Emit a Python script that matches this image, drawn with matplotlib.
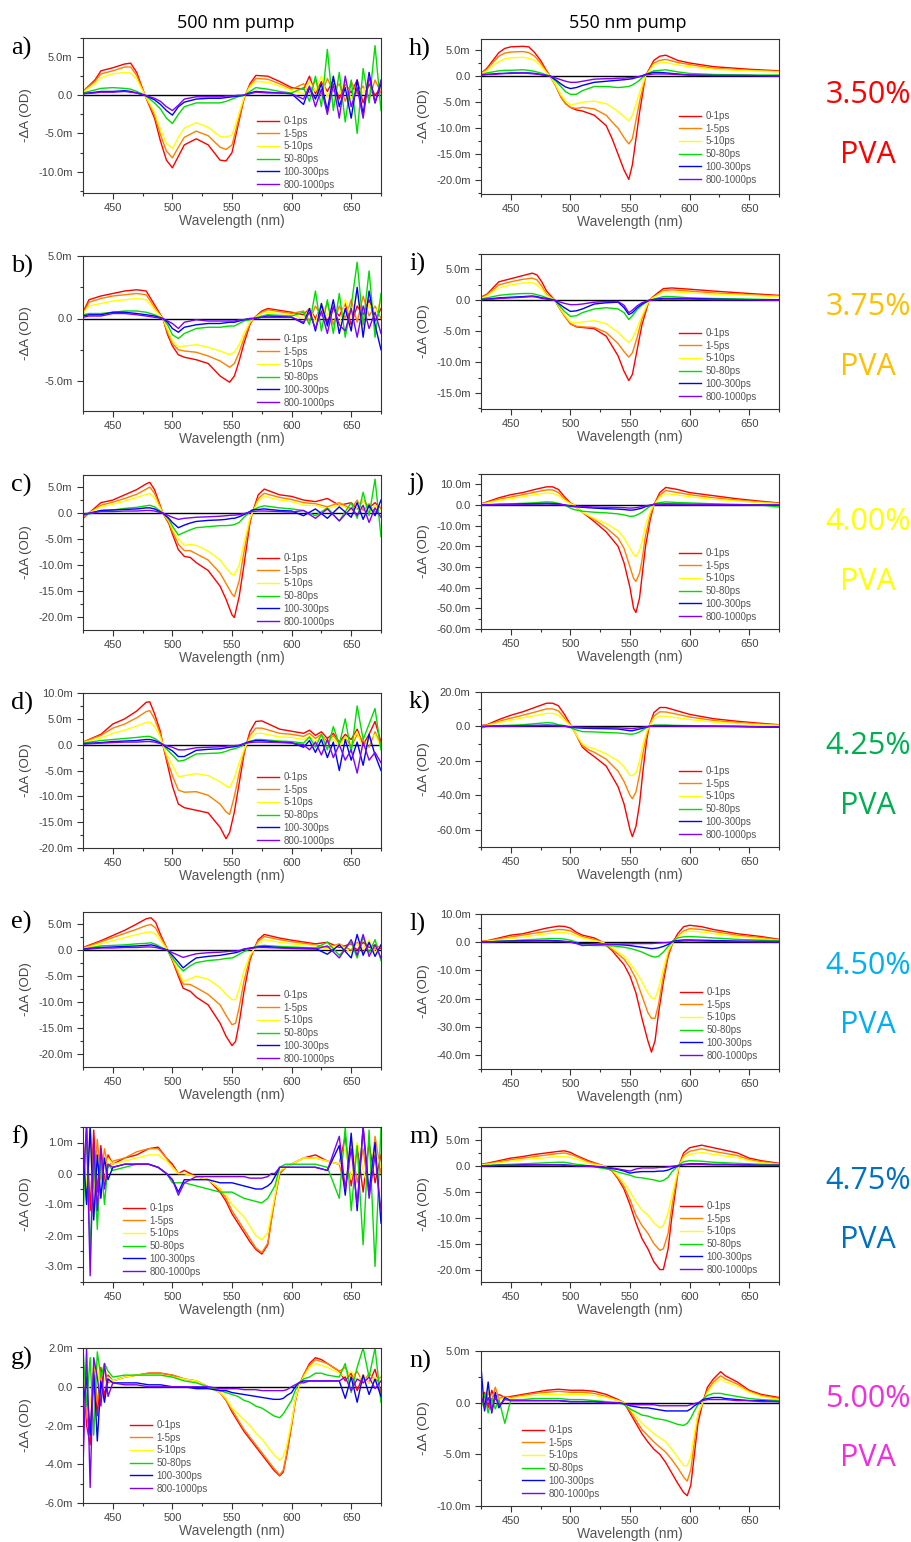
import matplotlib
matplotlib.use("Agg")
import matplotlib.pyplot as plt
from matplotlib.ticker import MultipleLocator, FuncFormatter

plt.rcParams['font.family'] = ['Liberation Sans', 'DejaVu Sans']

DELAYS = ["0-1ps", "1-5ps", "5-10ps", "50-80ps", "100-300ps", "800-1000ps"]
COLORS = ["#FF0000", "#FF8000", "#FFFF00", "#00DD00", "#0000FF", "#8000FF"]

PVA_LABELS = ["3.50%", "3.75%", "4.00%", "4.25%", "4.50%", "4.75%", "5.00%"]
PVA_COLORS = ["#FF0000", "#FFC000", "#FFFF00", "#00B050", "#00B0F0", "#0070C0", "#EE30DD"]

# -dA spectra in mOD, one row per delay window (same order as DELAYS)

# 500 nm pump
A_WL = [425, 435, 440, 450, 460, 465, 470, 477, 485, 490, 495, 500, 505, 510, 520, 530, 540, 545, 550, 555, 560, 565, 570, 580, 590,
        600, 610, 615, 620, 625, 630, 635, 640, 645, 650, 655, 660, 665, 670, 675]
A_DA = [
    [0.5, 2.0, 3.2, 3.6, 4.1, 4.2, 3.0, 0.0, -3.0, -6.0, -8.5, -9.5, -8.0, -6.5, -5.7, -6.5, -8.5, -8.6, -7.5, -4.0, -0.5, 1.5, 2.6, 2.5, 1.8,
     1.0, 0.8, 2.5, 0.2, 1.8, 0.5, 2.0, -0.5, 1.5, 0.3, 2.0, -1.0, 1.5, 0.0, 1.0],
    [0.5, 1.8, 2.8, 3.2, 3.7, 3.7, 2.6, 0.0, -2.6, -5.2, -7.3, -8.2, -6.8, -5.5, -4.7, -5.3, -6.8, -7.1, -6.5, -3.5, -0.4, 1.3, 2.2, 2.1, 1.5,
     0.8, 1.5, 0.3, 2.0, 0.0, 2.2, 0.5, 1.5, -0.8, 1.8, 0.2, 1.2, -0.5, 2.0, 0.3],
    [0.4, 1.5, 2.3, 2.8, 3.0, 2.9, 2.1, 0.0, -2.2, -4.5, -6.3, -7.0, -5.5, -4.3, -3.6, -4.2, -5.4, -5.5, -5.2, -2.8, -0.3, 1.1, 1.8, 1.7, 1.2,
     0.6, 0.2, 1.8, 0.5, 2.5, -0.3, 1.6, 0.2, 1.8, -0.5, 1.0, 0.3, 2.2, -0.8, 1.2],
    [0.3, 0.7, 0.9, 1.0, 0.9, 0.8, 0.5, 0.0, -1.0, -1.8, -3.0, -3.7, -2.5, -1.5, -1.0, -1.0, -1.0, -0.8, -0.5, -0.2, 0.0, 0.5, 1.0, 0.8, 0.5,
     0.3, 1.0, -0.8, 2.5, -1.5, 6.0, -2.0, 3.0, -3.5, 2.0, -5.0, 3.5, -1.0, 6.5, -2.0],
    [0.2, 0.4, 0.5, 0.5, 0.6, 0.5, 0.3, 0.0, -0.6, -1.2, -2.0, -2.6, -1.5, -0.9, -0.5, -0.4, -0.4, -0.3, -0.2, -0.1, 0.0, 0.3, 0.5, 0.4, 0.3,
     0.2, -1.2, 1.0, -0.5, 1.5, -2.0, 2.5, -1.5, 1.0, -3.0, 2.0, -2.5, 3.0, -1.0, 1.5],
    [0.2, 0.3, 0.4, 0.4, 0.5, 0.4, 0.3, 0.0, -0.4, -0.8, -1.5, -2.0, -1.3, -0.5, -0.2, -0.2, -0.2, -0.1, -0.1, 0.0, 0.0, 0.2, 0.4, 0.3, 0.3,
     0.2, -0.5, 1.2, -1.5, 0.8, -2.5, 1.5, -3.0, 2.5, -1.5, 1.0, -3.0, 2.5, -1.0, 2.0],
]

B_WL = [425, 430, 440, 450, 460, 470, 478, 485, 492, 496, 500, 505, 510, 520, 530, 540, 548, 552, 556, 560, 565, 568, 575, 580,
        600, 610, 615, 620, 625, 630, 635, 640, 645, 650, 655, 660, 665, 670, 675]
B_DA = [
    [0.5, 1.5, 1.8, 2.0, 2.2, 2.3, 2.2, 1.1, 0.0, -1.3, -2.2, -2.9, -3.1, -3.3, -3.6, -4.6, -5.1, -4.6, -3.4, -2.0, -0.5, 0.0, 0.6, 0.8,
     0.5, 0.3, 0.8, 0.0, 1.0, -0.3, 0.8, 0.2, 1.2, -0.5, 1.0, 0.3, 1.5, -0.2, 0.8],
    [0.4, 1.3, 1.6, 1.8, 1.9, 2.0, 1.9, 0.9, 0.0, -1.1, -2.0, -2.5, -2.6, -2.7, -3.0, -3.4, -3.9, -3.6, -2.7, -1.6, -0.4, 0.0, 0.5, 0.7,
     0.4, 0.6, -0.2, 1.0, 0.2, 1.2, -0.5, 1.0, 0.0, 1.5, -0.3, 1.8, 0.2, 1.0, 0.0],
    [0.4, 1.0, 1.2, 1.4, 1.5, 1.6, 1.5, 0.7, 0.0, -0.9, -1.8, -2.3, -2.2, -2.1, -2.3, -2.6, -2.9, -2.7, -2.1, -1.2, -0.3, 0.0, 0.4, 0.5,
     0.3, 0.0, 0.8, -0.3, 1.2, 0.2, 1.0, -0.5, 1.5, 0.0, 2.0, -0.8, 1.2, 0.3, 1.5],
    [0.3, 0.4, 0.4, 0.5, 0.6, 0.6, 0.5, 0.3, 0.0, -0.5, -1.3, -1.6, -1.2, -0.8, -0.7, -0.7, -0.6, -0.6, -0.4, -0.2, -0.1, 0.0, 0.2, 0.3,
     0.2, 0.5, -0.5, 2.2, -1.0, 1.5, -1.2, 2.0, -1.5, 1.0, 4.5, -0.5, 3.8, -1.5, 2.0],
    [0.2, 0.3, 0.3, 0.5, 0.5, 0.4, 0.3, 0.2, 0.0, -0.3, -0.8, -1.1, -0.7, -0.5, -0.4, -0.4, -0.3, -0.3, -0.2, -0.1, 0.0, 0.0, 0.1, 0.2,
     0.1, -0.4, 0.8, -1.0, 1.2, -0.6, 1.5, -1.2, 0.8, -1.0, 2.5, -1.5, 2.2, -0.5, -2.5],
    [0.1, 0.2, 0.2, 0.4, 0.4, 0.3, 0.2, 0.1, 0.0, -0.2, -0.4, -0.8, -0.3, -0.1, -0.2, -0.2, -0.2, -0.2, -0.1, -0.1, 0.0, 0.0, 0.1, 0.1,
     0.1, -0.3, 0.5, -0.8, 0.6, -1.2, 1.0, -0.5, -1.0, 0.8, -1.5, 1.0, -0.8, 0.5, -1.2],
]

C_WL = [425, 440, 450, 460, 470, 478, 481, 485, 492, 497, 500, 505, 510, 515, 520, 530, 540, 545, 550, 552, 556, 560, 565, 567, 572, 577, 590,
        600, 610, 620, 630, 640, 650, 655, 660, 665, 670, 675]
C_DA = [
    [-1.0, 2.0, 2.5, 3.5, 4.5, 5.6, 5.9, 4.5, 0.0, -2.0, -4.0, -7.0, -8.3, -8.5, -9.5, -11.0, -14.0, -16.5, -19.5, -20.0, -16.0, -10.0, -2.0, 0.0, 3.5, 4.6, 3.5,
     3.2, 2.5, 2.2, 2.8, 1.5, 2.0, 0.8, 2.5, 1.0, 2.0, 0.8],
    [-0.8, 1.5, 2.1, 2.8, 3.6, 4.6, 5.0, 3.8, 0.0, -1.8, -3.5, -6.0, -7.2, -7.2, -7.8, -9.0, -11.5, -13.5, -15.5, -16.0, -13.0, -7.5, -1.5, 0.0, 2.8, 3.8, 3.0,
     2.6, 2.0, 1.8, 1.2, 2.0, 0.8, 2.5, 0.5, 1.8, 0.2, 1.2],
    [-0.6, 1.2, 1.7, 2.3, 3.0, 3.6, 3.8, 2.9, 0.0, -1.5, -3.0, -5.0, -6.2, -6.0, -6.2, -7.3, -9.0, -10.5, -11.8, -11.8, -10.0, -5.8, -1.0, 0.0, 2.3, 3.2, 2.5,
     2.2, 1.5, 1.5, 0.8, 1.6, 0.5, 1.0, 2.5, 0.0, 1.5, 0.6],
    [-0.5, 0.5, 0.6, 0.9, 1.1, 1.4, 1.5, 1.2, 0.0, -1.2, -2.5, -4.2, -3.7, -3.2, -2.8, -2.6, -2.4, -2.4, -2.3, -2.2, -1.8, -0.8, 0.2, 0.5, 1.1, 1.4, 1.0,
     0.8, 0.5, -0.5, 1.0, -1.5, 2.0, -1.0, 4.0, -0.5, 6.5, -4.5],
    [-0.3, 0.5, 0.6, 0.7, 0.8, 1.0, 1.0, 0.8, 0.0, -1.0, -1.8, -2.8, -2.3, -1.9, -1.6, -1.4, -1.3, -1.2, -1.0, -1.0, -0.7, -0.3, 0.3, 0.6, 0.7, 0.8, 0.5,
     0.4, -0.5, 0.8, -1.0, 1.2, -0.8, 2.0, -1.2, 1.5, -0.5, 2.5],
    [-0.2, 0.3, 0.3, 0.4, 0.4, 0.5, 0.5, 0.4, 0.0, -0.5, -0.8, -1.2, -1.0, -0.9, -0.8, -0.7, -0.6, -0.5, -0.4, -0.4, -0.3, -0.1, 0.2, 0.3, 0.4, 0.4, 0.3,
     0.2, 0.5, -1.0, 0.8, -1.5, 1.0, -0.5, 1.5, -1.8, 1.0, -0.8],
]

D_WL = [425, 440, 450, 460, 470, 478, 481, 485, 490, 492, 495, 500, 505, 510, 520, 530, 540, 545, 548, 552, 556, 560, 562, 565, 570, 575, 590,
        600, 610, 615, 620, 625, 630, 635, 640, 645, 650, 655, 660, 665, 670, 675]
D_DA = [
    [0.5, 2.0, 4.0, 5.0, 6.5, 8.2, 8.3, 6.0, 2.5, 0.0, -3.0, -8.0, -11.5, -12.2, -12.7, -13.2, -16.0, -18.2, -17.0, -13.0, -7.5, -2.0, 0.0, 2.5, 4.5, 4.6, 3.0,
     2.6, 2.2, 2.8, 1.8, 2.5, 1.2, 2.2, 0.5, 2.0, 1.0, 3.0, 0.0, 2.0, 4.5, 0.5],
    [0.5, 1.8, 3.2, 4.0, 5.2, 6.4, 6.6, 5.0, 2.0, 0.0, -2.5, -6.0, -8.8, -9.2, -9.1, -9.8, -11.5, -13.0, -13.5, -10.0, -5.5, -1.5, 0.0, 1.8, 3.2, 3.2, 2.2,
     2.0, 1.6, 2.2, 1.2, 2.0, 0.5, 1.8, 0.2, 1.5, -0.5, 2.0, 0.8, -0.5, 2.5, 0.0],
    [0.4, 1.3, 2.2, 2.8, 3.6, 4.3, 4.4, 3.5, 1.4, 0.0, -1.8, -4.0, -6.2, -6.0, -5.6, -6.0, -7.2, -8.0, -8.3, -6.5, -3.5, -1.0, 0.0, 1.2, 2.2, 2.2, 1.5,
     1.4, 1.0, 1.6, 0.5, 1.8, 0.0, 1.2, -0.5, 1.5, 0.3, 2.5, -1.0, 1.0, 2.0, -0.5],
    [0.3, 0.8, 1.0, 1.2, 1.4, 1.6, 1.6, 1.2, 0.4, 0.0, -0.8, -2.0, -3.2, -3.0, -1.8, -1.7, -1.6, -1.3, -1.0, -0.8, -0.5, 0.0, 0.3, 0.6, 1.0, 1.0, 0.7,
     0.6, 0.3, 1.5, -0.5, 2.0, -1.0, 3.5, 0.0, 5.0, -1.5, 7.5, 1.0, 4.0, 7.0, -1.0],
    [0.2, 0.4, 0.6, 0.7, 0.8, 1.0, 1.0, 0.8, 0.3, 0.0, -0.5, -1.2, -2.3, -2.3, -1.1, -0.9, -0.8, -0.6, -0.5, -0.4, -0.2, 0.2, 0.4, 0.6, 0.8, 0.8, 0.5,
     0.4, -0.5, 0.8, -1.5, 1.0, -2.5, 0.5, -5.0, 1.0, -3.0, 0.5, -4.0, 2.0, -2.0, -5.0],
    [0.1, 0.3, 0.4, 0.5, 0.5, 0.6, 0.6, 0.5, 0.2, 0.0, -0.2, -0.5, -1.0, -1.0, -0.6, -0.5, -0.4, -0.3, -0.2, -0.2, -0.1, 0.2, 0.3, 0.4, 0.5, 0.5, 0.4,
     0.3, 0.0, -1.0, 0.5, -2.0, 1.0, -2.5, 0.0, -3.0, -1.0, -5.5, 0.5, -3.0, -1.5, -3.5],
]

E_WL = [425, 440, 450, 460, 470, 478, 482, 486, 490, 496, 500, 505, 509, 515, 520, 530, 540, 545, 550, 553, 556, 560, 565, 568, 572, 577, 590,
        600, 620, 630, 640, 650, 655, 660, 665, 670, 675]
E_DA = [
    [0.5, 1.8, 2.8, 3.8, 5.0, 6.0, 6.2, 5.3, 3.0, 0.0, -2.0, -5.0, -7.3, -7.9, -9.0, -10.5, -14.0, -16.5, -18.3, -17.5, -14.0, -8.0, -2.0, 0.0, 2.0, 3.0, 2.3,
     1.9, 1.2, 1.5, 0.5, 1.2, 0.0, 1.5, 0.5, 1.0, 0.3],
    [0.4, 1.6, 2.4, 3.2, 4.0, 4.7, 4.9, 4.2, 2.5, 0.0, -1.8, -4.5, -6.5, -6.6, -7.2, -8.5, -10.5, -12.5, -14.3, -14.0, -11.0, -6.0, -1.5, 0.0, 1.7, 2.6, 2.0,
     1.6, 1.0, 0.5, 1.2, 0.0, 1.5, -0.5, 1.2, 0.2, 0.8],
    [0.3, 1.2, 1.8, 2.4, 3.0, 3.4, 3.5, 3.0, 1.8, 0.0, -1.6, -4.0, -6.0, -5.5, -5.0, -5.6, -7.2, -8.5, -9.5, -9.5, -7.5, -4.0, -1.0, 0.0, 1.3, 2.0, 1.5,
     1.2, 0.8, 0.2, 1.0, -0.5, 1.2, 0.3, 2.0, -0.5, 1.0],
    [0.2, 0.8, 0.9, 1.0, 1.2, 1.3, 1.4, 1.1, 0.6, 0.0, -1.5, -3.0, -4.0, -3.0, -2.4, -2.0, -1.8, -1.6, -1.5, -1.2, -0.8, -0.3, 0.2, 0.5, 0.8, 0.9, 0.7,
     0.6, 0.4, 1.5, -1.0, 1.5, -1.5, 2.5, -0.5, 2.0, -2.0],
    [0.2, 0.5, 0.6, 0.7, 0.8, 0.9, 1.0, 0.8, 0.4, 0.0, -1.0, -2.3, -3.4, -2.3, -1.5, -1.2, -1.0, -0.8, -0.6, -0.5, -0.3, 0.2, 0.4, 0.5, 0.6, 0.7, 0.5,
     0.4, 0.3, -0.8, 1.0, -1.5, 3.0, -1.0, 1.5, -1.2, 1.0],
    [0.1, 0.4, 0.4, 0.5, 0.5, 0.6, 0.6, 0.5, 0.3, 0.0, -0.5, -1.0, -1.4, -1.0, -0.7, -0.5, -0.4, -0.3, -0.2, -0.2, -0.1, 0.2, 0.3, 0.4, 0.5, 0.5, 0.4,
     0.3, 0.2, 0.8, -1.5, 2.0, -1.0, 3.0, -1.2, 1.0, -1.5],
]

F_WL = [425, 428, 431, 434, 437, 440, 443, 446, 450, 460, 470, 480, 488, 495, 500, 505, 510, 520, 530, 540, 545, 550, 555, 560, 565, 570, 575, 580, 583, 586, 590, 595, 600, 610, 620, 630, 640, 645, 650, 655, 660, 665, 670, 675]
F_DA = [
    [-0.5, 1.5, -1.2, 1.4, -0.6, 0.9, -0.3, 0.6, 0.3, 0.5, 0.6, 0.8, 0.85, 0.5, 0.3, 0.0, 0.1, -0.1, -0.2, -0.6, -0.9, -1.3, -1.6, -1.9, -2.2, -2.45, -2.6, -2.3, -1.5, -0.8, 0.0, 0.2, 0.3, 0.5, 0.6, 0.4, 0.3, 1.2, -0.4, 0.9, -0.6, 1.0, -0.3, 0.6],
    [0.3, -0.9, 1.5, -0.5, 1.1, -0.2, 0.8, 0.2, 0.4, 0.5, 0.7, 0.8, 0.8, 0.5, 0.2, 0.0, 0.0, -0.1, -0.2, -0.5, -0.8, -1.2, -1.5, -1.8, -2.1, -2.4, -2.55, -2.25, -1.5, -0.8, 0.0, 0.2, 0.3, 0.5, 0.5, 0.4, 0.3, -0.5, 1.1, -0.3, 0.8, -0.7, 1.2, 0.0],
    [1.0, -0.4, 0.8, -1.0, 0.5, 0.2, -0.4, 0.5, 0.3, 0.4, 0.5, 0.6, 0.6, 0.4, 0.2, 0.0, 0.0, -0.1, -0.2, -0.5, -0.7, -1.0, -1.2, -1.4, -1.7, -2.0, -2.15, -1.9, -1.3, -0.7, 0.1, 0.2, 0.3, 0.5, 0.5, 0.4, 0.3, 0.8, -0.2, 1.0, 0.1, -0.5, 0.7, 0.2],
    [-1.5, 1.5, -2.6, 0.8, -1.8, 0.5, -1.0, 0.3, 0.1, 0.2, 0.3, 0.3, 0.2, 0.0, -0.3, -0.3, -0.3, -0.4, -0.5, -0.6, -0.6, -0.6, -0.7, -0.8, -0.85, -0.9, -0.95, -0.8, -0.6, -0.4, 0.2, 0.3, 0.3, 0.3, 0.3, 0.2, -0.8, 1.5, -1.2, 0.9, -2.3, 1.4, -3.0, 1.5],
    [0.8, -1.0, 1.5, -1.5, 0.6, -0.8, 0.5, -0.2, 0.2, 0.3, 0.3, 0.3, 0.2, 0.0, -0.2, -0.6, -0.2, -0.2, -0.2, -0.3, -0.3, -0.3, -0.35, -0.4, -0.45, -0.5, -0.5, -0.4, -0.3, -0.1, 0.2, 0.2, 0.2, 0.2, 0.2, 0.1, 0.9, -0.7, 1.3, -1.2, 1.5, -0.6, 1.0, -1.6],
    [-0.3, 1.5, -3.3, 1.0, -1.2, 0.8, -0.5, 0.3, 0.2, 0.3, 0.3, 0.3, 0.2, 0.0, -0.2, -0.7, -0.3, -0.1, -0.1, -0.1, -0.1, -0.1, -0.1, -0.1, -0.15, -0.15, -0.15, -0.1, 0.0, 0.0, 0.2, 0.2, 0.2, 0.2, 0.2, 0.1, 1.2, -0.5, 0.8, -1.0, 1.5, -0.8, 0.6, -1.2],
]

G_WL = [425, 428, 431, 434, 437, 440, 443, 446, 450, 460, 470, 480, 490, 500, 510, 520, 530, 540, 545, 550, 555, 560, 565, 570, 575, 580, 585, 590, 593, 596, 600, 603, 606, 610, 615, 620, 625, 630, 640, 645, 650, 655, 660, 665, 670, 675]
G_DA = [
    [1.5, -2.0, -3.0, 0.8, -1.5, 1.0, -0.5, 0.6, 0.3, 0.5, 0.6, 0.7, 0.7, 0.6, 0.4, 0.3, 0.0, -0.3, -0.7, -1.3, -1.8, -2.3, -2.7, -3.1, -3.5, -3.9, -4.3, -4.6, -4.4, -3.5, -2.0, -0.8, 0.0, 0.6, 1.2, 1.5, 1.4, 1.2, 0.8, 0.3, 0.7, -0.2, 0.6, 0.2, 0.9, -0.3],
    [0.8, -1.5, -2.4, 1.2, -0.8, 0.5, 1.0, 0.2, 0.3, 0.5, 0.6, 0.7, 0.7, 0.6, 0.4, 0.3, 0.0, -0.3, -0.7, -1.2, -1.7, -2.2, -2.6, -3.0, -3.4, -3.8, -4.2, -4.55, -4.3, -3.4, -1.9, -0.7, 0.0, 0.6, 1.1, 1.4, 1.3, 1.2, 0.8, 1.0, 0.4, 0.8, 0.2, 0.7, 0.3, 0.5],
    [-0.5, 1.5, -1.0, 0.6, 1.2, -0.5, 0.4, 0.5, 0.3, 0.5, 0.6, 0.6, 0.6, 0.5, 0.4, 0.3, 0.0, -0.3, -0.6, -1.1, -1.4, -1.7, -2.0, -2.4, -2.7, -3.1, -3.5, -3.8, -3.6, -3.0, -1.8, -0.7, 0.0, 0.5, 1.0, 1.2, 1.1, 1.0, 0.7, 0.5, 0.8, 0.3, 0.6, 0.2, 0.5, 0.3],
    [2.0, -1.0, 1.5, -2.5, 1.8, 0.5, 1.2, 0.8, 0.5, 0.6, 0.6, 0.6, 0.6, 0.5, 0.3, 0.2, 0.0, -0.2, -0.3, -0.4, -0.5, -0.7, -0.8, -1.0, -1.1, -1.3, -1.5, -1.6, -1.4, -1.1, -0.7, -0.2, 0.2, 0.4, 0.5, 0.7, 0.7, 0.6, 0.5, 1.2, -0.3, 1.0, 2.0, 0.5, 2.0, -0.8],
    [-1.0, 0.5, -2.5, 0.8, -2.8, 0.3, -0.8, 0.4, 0.2, 0.2, 0.2, 0.1, 0.1, 0.0, 0.0, -0.1, -0.1, -0.2, -0.2, -0.3, -0.35, -0.4, -0.45, -0.5, -0.55, -0.6, -0.65, -0.65, -0.6, -0.45, -0.3, 0.0, 0.2, 0.3, 0.3, 0.3, 0.3, 0.3, 0.3, -0.6, 0.5, -0.8, 0.6, -0.4, 0.4, -0.5],
    [-4.2, 2.0, -5.2, 1.5, 0.5, -1.0, 1.2, -0.5, 0.2, 0.1, 0.1, 0.0, 0.0, 0.0, 0.0, 0.0, 0.0, -0.1, -0.1, -0.1, -0.1, -0.15, -0.15, -0.15, -0.2, -0.2, -0.2, -0.2, -0.2, -0.15, 0.0, 0.1, 0.2, 0.2, 0.3, 0.3, 0.3, 0.3, 0.3, 0.5, -0.2, 0.4, 0.2, 0.5, -0.1, 0.3],
]

# 550 nm pump
H_WL = [425, 430, 435, 440, 445, 450, 460, 465, 470, 475, 480, 483, 488, 492, 496, 500, 505, 510, 520, 530, 535, 540, 545, 549, 552, 555, 558, 563, 570, 575, 580, 590, 600, 620, 650, 675]
H_DA = [
    [0.5, 1.5, 3.0, 4.5, 5.3, 5.6, 5.7, 5.6, 4.5, 3.0, 1.0, 0.0, -2.0, -4.0, -5.3, -6.0, -6.5, -6.7, -7.5, -9.5, -12.0, -15.0, -18.0, -19.8, -17.0, -12.0, -7.0, 0.0, 3.0, 3.8, 4.0, 3.0, 2.5, 1.8, 1.3, 1.0],
    [0.5, 1.3, 2.6, 3.8, 4.4, 4.6, 4.7, 4.5, 3.8, 2.5, 0.8, 0.0, -2.0, -4.0, -5.3, -6.0, -6.2, -6.0, -6.3, -7.5, -8.8, -10.0, -11.8, -13.0, -12.0, -8.5, -5.0, 0.0, 2.5, 3.0, 3.2, 2.6, 2.2, 1.5, 1.1, 0.9],
    [0.4, 1.0, 2.0, 2.8, 3.3, 3.5, 3.6, 3.4, 3.0, 2.0, 0.6, 0.0, -1.8, -3.6, -4.8, -5.5, -5.3, -5.0, -4.8, -5.3, -6.0, -6.8, -7.8, -8.6, -7.5, -5.5, -3.2, 0.0, 2.2, 2.5, 2.6, 2.1, 1.8, 1.3, 1.0, 0.8],
    [0.3, 0.6, 0.8, 1.0, 1.1, 1.1, 1.2, 1.1, 0.9, 0.6, 0.2, 0.0, -1.0, -2.0, -3.0, -3.5, -3.5, -2.8, -2.0, -2.0, -2.1, -2.2, -2.1, -2.0, -1.7, -1.3, -0.8, 0.3, 1.0, 1.1, 1.2, 0.8, 0.5, 0.3, 0.2, 0.2],
    [0.2, 0.3, 0.4, 0.5, 0.5, 0.6, 0.6, 0.6, 0.5, 0.3, 0.1, 0.0, -0.8, -1.5, -2.1, -2.4, -2.2, -1.8, -1.2, -1.0, -0.9, -0.8, -0.7, -0.6, -0.5, -0.3, -0.1, 0.3, 0.7, 0.7, 0.6, 0.4, 0.2, 0.1, 0.1, 0.0],
    [0.2, 0.3, 0.3, 0.4, 0.5, 0.5, 0.6, 0.5, 0.4, 0.3, 0.1, 0.0, -0.4, -0.7, -1.0, -1.2, -1.2, -1.0, -0.6, -0.5, -0.5, -0.4, -0.4, -0.3, -0.3, -0.2, -0.1, 0.2, 0.4, 0.4, 0.4, 0.3, 0.2, 0.1, 0.1, 0.0],
]

I_WL = [425, 430, 435, 440, 450, 460, 468, 472, 476, 480, 487, 490, 495, 500, 505, 510, 520, 530, 540, 545, 549, 552, 556, 560, 566, 572, 578, 585, 600, 620, 650, 675]
I_DA = [
    [0.5, 1.0, 2.0, 3.0, 3.5, 4.0, 4.4, 4.1, 3.0, 1.5, 0.0, -1.0, -2.5, -3.8, -4.3, -4.4, -4.6, -5.8, -9.0, -11.5, -13.0, -12.0, -8.0, -4.0, 0.0, 1.0, 1.9, 2.0, 1.8, 1.5, 1.1, 0.8],
    [0.4, 0.9, 1.7, 2.5, 3.0, 3.4, 3.6, 3.3, 2.3, 1.0, 0.0, -1.0, -2.5, -3.8, -4.2, -4.3, -4.4, -5.2, -7.0, -8.3, -9.2, -8.5, -6.0, -3.0, 0.0, 0.8, 1.6, 1.7, 1.5, 1.2, 0.9, 0.7],
    [0.3, 0.7, 1.4, 2.0, 2.5, 2.8, 2.9, 2.5, 1.8, 0.8, 0.0, -0.9, -2.3, -3.5, -3.7, -3.5, -3.3, -3.8, -5.2, -6.2, -6.8, -6.2, -4.5, -2.5, 0.0, 0.7, 1.4, 1.4, 1.2, 1.0, 0.8, 0.6],
    [0.2, 0.4, 0.6, 0.8, 1.0, 1.1, 1.1, 0.9, 0.7, 0.4, 0.0, -0.7, -1.8, -2.6, -2.5, -2.0, -1.4, -1.2, -1.4, -2.0, -3.1, -2.5, -1.5, -0.8, 0.0, 0.3, 0.6, 0.6, 0.4, 0.3, 0.2, 0.1],
    [0.1, 0.2, 0.3, 0.4, 0.5, 0.6, 0.7, 0.6, 0.4, 0.3, 0.0, -0.5, -1.2, -1.8, -1.7, -1.4, -0.6, -0.4, -0.3, -1.2, -2.3, -2.0, -1.2, -0.6, 0.0, 0.2, 0.3, 0.3, 0.3, 0.2, 0.1, 0.1],
    [0.1, 0.2, 0.2, 0.3, 0.4, 0.5, 0.6, 0.5, 0.3, 0.2, 0.0, -0.2, -0.5, -0.7, -0.7, -0.6, -0.3, -0.2, -0.2, -0.8, -2.0, -1.6, -0.9, -0.4, 0.0, 0.1, 0.2, 0.2, 0.2, 0.1, 0.1, 0.0],
]

J_WL = [425, 430, 440, 450, 460, 470, 480, 485, 490, 495, 500, 503, 510, 520, 530, 540, 545, 550, 553, 555, 558, 560, 563, 567, 570, 575, 580, 590, 600, 620, 640, 660, 675]
J_DA = [
    [0.5, 1.5, 3.5, 5.0, 6.0, 7.5, 8.8, 8.8, 7.5, 4.0, 1.0, 0.0, -3.5, -8.0, -13.0, -20.0, -28.0, -40.0, -50.0, -52.0, -45.0, -35.0, -20.0, -7.0, 0.0, 6.0, 8.5, 7.5, 6.0, 4.5, 3.0, 1.8, 1.0],
    [0.4, 1.2, 2.8, 3.9, 5.0, 6.2, 7.3, 7.3, 6.0, 3.0, 0.8, 0.0, -3.5, -7.0, -11.0, -16.0, -21.0, -30.0, -35.5, -37.0, -33.0, -27.0, -15.0, -5.0, 0.0, 4.8, 7.0, 6.0, 5.0, 3.5, 2.4, 1.4, 0.8],
    [0.3, 1.0, 2.2, 3.1, 4.0, 5.0, 5.8, 5.7, 4.5, 2.2, 0.6, 0.0, -3.5, -6.5, -9.0, -12.5, -16.0, -21.0, -24.0, -25.0, -22.0, -18.0, -10.0, -3.0, 0.0, 3.8, 5.5, 4.8, 4.0, 2.8, 1.9, 1.1, 0.6],
    [0.0, 0.2, 0.5, 0.6, 0.8, 1.1, 1.5, 1.4, 0.8, 0.0, -1.5, -2.2, -3.0, -3.5, -3.8, -4.3, -4.8, -5.5, -5.4, -5.0, -4.2, -3.5, -2.2, -0.5, 0.5, 1.2, 1.5, 1.2, 1.0, 0.6, 0.3, 0.0, -1.0],
    [0.0, 0.1, 0.2, 0.3, 0.5, 0.6, 0.8, 0.7, 0.5, 0.0, -0.6, -0.8, -1.1, -1.5, -1.8, -2.0, -2.2, -2.5, -2.4, -2.2, -1.8, -1.5, -0.8, -0.1, 0.3, 0.4, 0.5, 0.4, 0.3, 0.2, 0.1, 0.0, 0.0],
    [0.0, 0.1, 0.2, 0.2, 0.3, 0.4, 0.5, 0.4, 0.3, 0.0, -0.4, -0.5, -0.7, -1.0, -1.1, -1.2, -1.3, -1.5, -1.4, -1.3, -1.0, -0.8, -0.4, -0.1, 0.2, 0.3, 0.3, 0.3, 0.2, 0.1, 0.1, 0.0, 0.0],
]

K_WL = [425, 430, 440, 450, 460, 470, 480, 485, 490, 495, 501, 505, 510, 515, 520, 530, 540, 545, 550, 552, 555, 558, 561, 564, 566, 570, 575, 580, 590, 600, 620, 640, 660, 675]
K_DA = [
    [0.5, 1.0, 4.0, 6.5, 8.5, 11.0, 13.5, 13.5, 12.0, 7.0, 0.0, -5.0, -12.0, -15.0, -17.5, -23.0, -35.0, -45.0, -60.0, -64.0, -58.0, -45.0, -25.0, -8.0, 0.0, 8.0, 11.0, 11.0, 9.0, 7.0, 4.5, 3.0, 1.8, 1.0],
    [0.4, 0.8, 3.0, 4.8, 6.5, 8.3, 10.2, 10.2, 9.0, 5.0, 0.0, -5.0, -11.0, -13.5, -15.0, -19.0, -26.0, -32.0, -40.0, -42.0, -38.0, -28.0, -15.0, -5.0, 0.0, 6.0, 8.5, 8.4, 7.0, 5.5, 3.5, 2.3, 1.3, 0.8],
    [0.3, 0.6, 2.3, 3.6, 5.0, 6.3, 7.6, 7.6, 6.5, 3.5, 0.0, -5.0, -10.0, -12.0, -13.0, -16.0, -20.0, -23.5, -28.5, -28.5, -27.0, -20.0, -10.0, -3.0, 0.0, 4.5, 6.0, 6.0, 5.0, 4.0, 2.6, 1.7, 1.0, 0.6],
    [-1.0, 0.0, 0.5, 0.7, 1.0, 1.6, 2.2, 2.0, 1.0, 0.5, -1.0, -2.0, -3.0, -3.1, -3.2, -3.5, -3.8, -4.1, -4.5, -4.5, -4.0, -3.2, -2.0, -0.6, 0.0, 0.8, 0.8, 0.8, 0.6, 0.5, 0.3, 0.0, -0.3, -0.5],
    [0.0, 0.1, 0.2, 0.3, 0.5, 0.6, 0.8, 0.7, 0.5, 0.2, -0.5, -0.8, -1.0, -1.1, -1.2, -1.3, -1.5, -2.0, -2.5, -2.5, -2.0, -1.5, -1.0, -0.3, 0.0, 0.4, 0.5, 0.5, 0.4, 0.3, 0.1, 0.0, -0.3, -0.5],
    [0.0, 0.1, 0.2, 0.2, 0.3, 0.4, 0.5, 0.4, 0.3, 0.1, -0.3, -0.4, -0.5, -0.6, -0.6, -0.7, -0.8, -1.0, -1.2, -1.2, -1.0, -0.7, -0.5, -0.1, 0.0, 0.2, 0.3, 0.3, 0.2, 0.2, 0.1, 0.0, -0.2, -0.3],
]

L_WL = [425, 430, 440, 450, 460, 470, 480, 490, 495, 500, 505, 510, 520, 527, 535, 545, 550, 555, 560, 565, 568, 571, 574, 578, 582, 586, 590, 595, 600, 610, 620, 640, 660, 675]
L_DA = [
    [0.3, 0.5, 1.5, 2.5, 3.0, 4.0, 5.0, 5.7, 5.6, 5.0, 3.5, 2.5, 1.5, 0.0, -3.0, -8.0, -12.0, -18.0, -27.0, -35.0, -39.0, -35.0, -25.0, -14.0, -5.0, 0.0, 3.0, 5.5, 6.0, 5.5, 4.5, 3.0, 2.0, 1.0],
    [0.2, 0.4, 1.2, 1.9, 2.5, 3.2, 3.8, 4.5, 4.4, 4.0, 3.0, 2.0, 1.0, 0.0, -2.5, -6.0, -9.0, -13.0, -19.0, -25.0, -27.0, -27.0, -22.0, -12.0, -4.0, 0.0, 2.0, 4.0, 4.8, 4.5, 3.8, 2.5, 1.6, 0.8],
    [0.2, 0.3, 0.8, 1.3, 1.8, 2.4, 3.0, 3.5, 3.4, 3.0, 2.2, 1.5, 0.5, 0.0, -2.0, -5.0, -7.5, -10.5, -14.0, -18.0, -19.8, -20.0, -16.5, -9.5, -3.0, 0.0, 1.8, 3.5, 4.0, 3.6, 3.0, 2.0, 1.2, 0.6],
    [0.0, 0.1, 0.3, 0.5, 0.8, 1.0, 1.2, 1.3, 1.1, 0.7, 0.0, -1.0, -1.2, -1.2, -1.3, -1.8, -2.2, -2.8, -3.5, -4.5, -5.0, -5.3, -5.0, -3.5, -1.5, 0.5, 1.5, 1.9, 2.0, 1.8, 1.5, 1.0, 0.7, 0.5],
    [0.0, 0.1, 0.3, 0.4, 0.5, 0.5, 0.6, 0.5, 0.3, 0.1, -0.3, -0.5, -0.6, -0.7, -0.8, -1.0, -1.2, -1.5, -1.8, -2.1, -2.3, -2.2, -2.0, -1.5, -0.8, 0.3, 0.6, 0.8, 0.8, 0.7, 0.6, 0.4, 0.3, 0.2],
    [0.0, 0.1, 0.2, 0.3, 0.3, 0.4, 0.4, 0.3, 0.2, 0.0, -0.5, -1.2, -1.0, -0.8, -0.7, -0.6, -0.6, -0.5, -0.5, -0.5, -0.5, -0.4, -0.3, -0.2, -0.1, 0.2, 0.3, 0.4, 0.5, 0.4, 0.3, 0.2, 0.1, 0.1],
]

M_WL = [425, 430, 440, 450, 460, 470, 480, 490, 495, 500, 505, 510, 515, 520, 528, 535, 540, 545, 550, 555, 560, 565, 570, 575, 578, 582, 585, 588, 591, 595, 600, 610, 620, 630, 640, 650, 660, 675]
M_DA = [
    [0.3, 0.5, 1.0, 1.5, 1.8, 2.2, 2.5, 2.8, 2.9, 2.6, 2.0, 1.5, 1.0, 0.6, 0.0, -1.0, -2.5, -4.5, -7.5, -11.0, -14.0, -16.0, -18.5, -20.0, -20.0, -16.0, -10.0, -5.0, 0.0, 2.5, 3.5, 4.0, 3.5, 3.0, 2.5, 1.5, 1.0, 0.5],
    [0.2, 0.4, 0.8, 1.2, 1.5, 1.8, 2.1, 2.4, 2.5, 2.2, 1.8, 1.3, 0.8, 0.5, 0.0, -0.9, -2.3, -4.0, -6.5, -9.5, -11.5, -13.0, -15.0, -16.3, -16.0, -13.0, -8.0, -4.0, 0.0, 2.0, 2.8, 3.3, 2.8, 2.4, 2.0, 1.2, 0.8, 0.4],
    [0.2, 0.3, 0.6, 0.9, 1.2, 1.4, 1.6, 1.8, 1.8, 1.6, 1.3, 0.9, 0.5, 0.3, 0.0, -0.8, -2.0, -3.3, -5.0, -7.0, -8.5, -9.5, -11.0, -12.0, -11.5, -9.0, -6.0, -3.0, 0.0, 1.6, 2.2, 2.6, 2.2, 1.9, 1.6, 1.0, 0.6, 0.3],
    [0.0, 0.1, 0.2, 0.3, 0.4, 0.5, 0.6, 0.7, 0.7, 0.5, 0.3, 0.2, 0.0, -0.2, -0.5, -0.8, -1.2, -1.5, -1.8, -2.2, -2.3, -2.5, -2.7, -3.0, -2.8, -2.2, -1.2, -0.5, 0.2, 0.8, 1.0, 0.9, 0.7, 0.6, 0.5, 0.4, 0.3, 0.2],
    [0.0, 0.0, 0.1, 0.1, 0.2, 0.2, 0.2, 0.2, 0.2, 0.1, 0.0, 0.0, 0.0, -0.1, -0.3, -0.5, -0.7, -1.0, -1.4, -1.2, -1.1, -1.1, -1.1, -1.0, -1.0, -0.8, -0.5, -0.2, 0.0, 0.3, 0.4, 0.4, 0.3, 0.3, 0.2, 0.2, 0.1, 0.1],
    [0.0, 0.0, 0.1, 0.1, 0.1, 0.2, 0.2, 0.2, 0.1, 0.1, 0.0, 0.0, -0.1, -0.1, -0.2, -0.4, -0.6, -0.8, -1.0, -0.6, -0.4, -0.4, -0.4, -0.3, -0.3, -0.2, -0.1, 0.0, 0.1, 0.2, 0.3, 0.3, 0.2, 0.2, 0.2, 0.1, 0.1, 0.1],
]

N_WL = [425, 428, 431, 434, 437, 440, 445, 450, 460, 470, 480, 490, 500, 510, 520, 530, 540, 545, 550, 555, 560, 565, 570, 575, 580, 585, 590, 595, 598, 601, 604, 607, 611, 615, 620, 626, 630, 640, 650, 660, 675]
N_DA = [
    [0.5, 1.0, -0.5, 1.2, 0.3, 0.8, 0.5, 0.6, 0.8, 1.0, 1.2, 1.3, 1.2, 1.2, 1.1, 0.8, 0.3, 0.0, -1.0, -2.0, -3.0, -3.8, -4.5, -5.0, -5.8, -6.8, -7.8, -8.7, -9.0, -8.0, -5.0, -2.0, 0.0, 1.5, 2.3, 3.0, 2.6, 2.0, 1.2, 0.8, 0.5],
    [0.3, -0.6, 1.0, 0.2, 1.5, 0.4, 0.6, 0.5, 0.7, 0.9, 1.0, 1.1, 1.0, 1.0, 0.9, 0.6, 0.2, 0.0, -0.8, -1.7, -2.6, -3.2, -3.8, -4.3, -4.8, -5.5, -6.3, -7.2, -7.6, -6.5, -3.8, -1.2, 0.0, 1.2, 2.0, 2.6, 2.3, 1.8, 1.1, 0.7, 0.4],
    [1.2, 0.0, 1.5, -0.4, 0.8, 0.2, 0.5, 0.4, 0.6, 0.7, 0.8, 0.8, 0.8, 0.8, 0.7, 0.5, 0.2, 0.0, -0.6, -1.3, -2.0, -2.5, -3.0, -3.4, -3.8, -4.5, -5.3, -6.1, -6.1, -5.2, -3.0, -1.0, 0.0, 1.0, 1.8, 2.3, 2.0, 1.6, 1.0, 0.6, 0.3],
    [-0.5, 0.8, -1.0, 0.4, -0.6, 0.3, -2.0, 0.3, 0.3, 0.4, 0.4, 0.4, 0.3, 0.3, 0.2, 0.1, 0.0, -0.2, -0.6, -0.9, -1.2, -1.3, -1.5, -1.6, -1.7, -1.9, -2.1, -2.2, -2.0, -1.5, -0.8, -0.2, 0.3, 0.7, 0.9, 0.9, 0.8, 0.6, 0.4, 0.3, 0.2],
    [3.5, -0.8, 2.0, -1.0, 1.0, -0.5, 0.5, 0.2, 0.2, 0.2, 0.2, 0.2, 0.1, 0.1, 0.1, 0.0, 0.0, -0.1, -0.3, -0.4, -0.5, -0.5, -0.6, -0.7, -0.8, -0.8, -0.8, -0.8, -0.8, -0.6, -0.3, -0.1, 0.3, 0.4, 0.5, 0.5, 0.4, 0.3, 0.2, 0.2, 0.1],
    [0.8, -0.5, 0.5, -0.8, 0.6, -0.3, 0.3, 0.2, 0.2, 0.2, 0.2, 0.2, 0.1, 0.1, 0.1, 0.0, 0.0, -0.1, -0.2, -0.2, -0.2, -0.2, -0.2, -0.3, -0.3, -0.3, -0.3, -0.3, -0.3, -0.2, -0.1, 0.0, 0.2, 0.3, 0.3, 0.3, 0.3, 0.2, 0.2, 0.1, 0.1],
]

# layout in pixels: letter, wavelengths, spectra, axes left, axes top,
# y-limits, major y step, legend (x of handle start, y of first row)
PANELS = [
    ("a", A_WL, A_DA, 83, 38, (-12.8, 7.5), 5, (257, 122)),
    ("b", B_WL, B_DA, 83, 256, (-7.4, 5.0), 5, (257, 340)),
    ("c", C_WL, C_DA, 83, 475, (-22.4, 7.3), 5, (257, 559)),
    ("d", D_WL, D_DA, 83, 693, (-20.0, 10.0), 5, (257, 778)),
    ("e", E_WL, E_DA, 83, 912, (-22.4, 7.3), 5, (257, 996)),
    ("f", F_WL, F_DA, 83, 1127, (-3.5, 1.5), 1, (123, 1209)),
    ("g", G_WL, G_DA, 83, 1348, (-6.0, 2.0), 2, (130, 1426)),
    ("h", H_WL, H_DA, 481, 39, (-22.6, 7.1), 5, (679, 117)),
    ("i", I_WL, I_DA, 481, 254, (-17.6, 7.5), 5, (679, 334)),
    ("j", J_WL, J_DA, 481, 474, (-60.0, 15.0), 10, (679, 554)),
    ("k", K_WL, K_DA, 481, 692, (-70.0, 20.0), 20, (679, 772)),
    ("l", L_WL, L_DA, 481, 914, (-45.0, 10.0), 10, (680, 993)),
    ("m", M_WL, M_DA, 481, 1127, (-22.4, 7.5), 5, (680, 1207)),
    ("n", N_WL, N_DA, 481, 1351, (-10.0, 5.0), 5, (522, 1431)),
]

W, H = 912, 1542
AX_W, AX_H = 298, 155


def fx(x):
    return x / W


def fy(y):
    return 1 - y / H


def mod_label(v, _):
    if abs(v) < 1e-9:
        return "0.0"
    return f"{v:.1f}m"


fig = plt.figure(figsize=(W / 100, H / 100), dpi=100)

for letter, wl, spectra, left, top, ylim, ystep, leg in PANELS:
    ax = fig.add_axes([fx(left), fy(top + AX_H), AX_W / W, AX_H / H])
    for da, name, col in zip(spectra, DELAYS, COLORS):
        ax.plot(wl, da, color=col, lw=1.0, label=name)
    ax.axhline(0, color="black", lw=1.0, zorder=1)

    ax.set_xlim(425, 675)
    ax.set_ylim(*ylim)
    ax.xaxis.set_major_locator(MultipleLocator(50))
    ax.xaxis.set_minor_locator(MultipleLocator(25))
    ax.yaxis.set_major_locator(MultipleLocator(ystep))
    ax.yaxis.set_minor_locator(MultipleLocator(ystep / 2))
    ax.yaxis.set_major_formatter(FuncFormatter(mod_label))
    ax.tick_params(which="both", direction="out", width=0.8, colors="#333333",
                   labelcolor="#444444", labelsize=8, top=False, right=False)
    ax.tick_params(which="major", length=4)
    ax.tick_params(which="minor", length=2)
    for side in ax.spines:
        ax.spines[side].set_linewidth(0.8)
        ax.spines[side].set_color("#333333")

    ax.legend(loc="upper left", bbox_to_anchor=(fx(leg[0]), fy(leg[1] - 6)),
              bbox_transform=fig.transFigure, frameon=False, fontsize=7,
              labelcolor="#555555", borderpad=0, borderaxespad=0,
              handlelength=2.3, handletextpad=0.4, labelspacing=0.28)

    cx = left + AX_W / 2
    fig.text(fx(cx), fy(top + AX_H + 28), "Wavelength (nm)", ha="center", va="center",
             fontsize=10, color="#555555")
    fig.text(fx(left - 57), fy(top + AX_H / 2), "-ΔA (OD)", rotation=90, ha="center",
             va="center", fontsize=9.5, color="#444444")
    fig.text(fx(left - 72), fy(top + 10), letter + ")", ha="left", va="center",
             fontsize=19, family="Liberation Serif")

fig.text(fx(236), fy(23), "500 nm pump", ha="center", va="center", fontsize=13, family="Open Sans")
fig.text(fx(628), fy(23), "550 nm pump", ha="center", va="center", fontsize=13, family="Open Sans")

PVA_ROWS = [(95, 155), (307, 367), (522, 582), (746, 806), (966, 1025), (1181, 1240), (1399, 1458)]
for (y1, y2), label, col in zip(PVA_ROWS, PVA_LABELS, PVA_COLORS):
    fig.text(fx(868), fy(y1), label, ha="center", va="center", fontsize=22,
             color=col, family="Open Sans")
    fig.text(fx(868), fy(y2), "PVA", ha="center", va="center", fontsize=22,
             color=col, family="Open Sans")

fig.savefig("out.png", dpi=100)
